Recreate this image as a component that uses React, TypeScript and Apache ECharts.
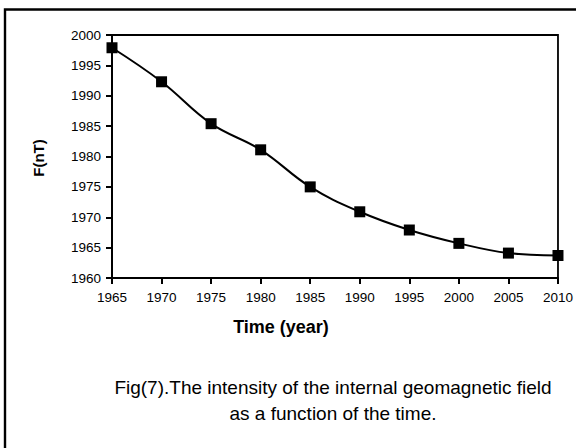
import React, { useEffect, useRef } from "react";
import * as echarts from "echarts";

const years = [1965, 1970, 1975, 1980, 1985, 1990, 1995, 2000, 2005, 2010];
const intensity = [1997.9, 1992.3, 1985.4, 1981.1, 1975.0, 1970.9, 1967.9, 1965.7, 1964.1, 1963.7];
const xAxisTitle = "Time (year)";
const yAxisTitle = "F(nT)";
const captionLine1 = "Fig(7).The intensity of the internal geomagnetic field";
const captionLine2 = "as a function of the time.";

const FONT = "'Liberation Sans', Arial, sans-serif";

export default function App() {
  const ref = useRef<HTMLDivElement>(null);
  useEffect(() => {
    if (!ref.current) return;
    const chart = echarts.init(ref.current, undefined, { renderer: "svg" });
    chart.setOption({
      animation: false,
      backgroundColor: "#ffffff",
      grid: {
        left: 112,
        top: 35,
        right: 14,
        bottom: 170,
        show: true,
        borderColor: "#000",
        borderWidth: 1.8,
        backgroundColor: "transparent",
      },
      xAxis: {
        type: "value",
        min: 1965,
        max: 2010,
        interval: 5,
        axisLine: { show: true, lineStyle: { color: "#000", width: 2 } },
        axisTick: { show: true, inside: false, length: 6, lineStyle: { color: "#000", width: 2 } },
        axisLabel: {
          color: "#000",
          fontSize: 13.5,
          fontFamily: FONT,
          margin: 12,
          formatter: (v: number) => String(v),
        },
        splitLine: { show: false },
      },
      yAxis: {
        type: "value",
        min: 1960,
        max: 2000,
        interval: 5,
        axisLine: { show: true, lineStyle: { color: "#000", width: 2 } },
        axisTick: { show: true, inside: false, length: 6, lineStyle: { color: "#000", width: 2 } },
        axisLabel: {
          color: "#000",
          fontSize: 13.5,
          fontFamily: FONT,
          margin: 11,
          formatter: (v: number) => String(v),
        },
        splitLine: { show: false },
      },
      series: [
        {
          type: "line",
          data: years.map((y, i) => [y, intensity[i]]),
          smooth: 0.4,
          symbol: "rect",
          symbolSize: 11,
          lineStyle: { color: "#000", width: 2 },
          itemStyle: { color: "#000" },
        },
      ],
      graphic: [
        {
          type: "polyline",
          shape: { points: [[5, 448], [5, 9.5], [577, 9.5]] },
          style: { stroke: "#000", lineWidth: 2.4, fill: "none" },
        },
        {
          type: "text",
          x: 281,
          y: 327,
          style: {
            text: xAxisTitle,
            font: `bold 18px ${FONT}`,
            fill: "#000",
            textAlign: "center",
            textVerticalAlign: "middle",
          },
        },
        {
          type: "text",
          x: 38,
          y: 158,
          rotation: Math.PI / 2,
          style: {
            text: yAxisTitle,
            font: `bold 15px ${FONT}`,
            fill: "#000",
            textAlign: "center",
            textVerticalAlign: "middle",
          },
        },
        {
          type: "text",
          x: 333,
          y: 387,
          style: {
            text: captionLine1,
            font: `19px ${FONT}`,
            fill: "#000",
            textAlign: "center",
            textVerticalAlign: "middle",
          },
        },
        {
          type: "text",
          x: 333,
          y: 413,
          style: {
            text: captionLine2,
            font: `19px ${FONT}`,
            fill: "#000",
            textAlign: "center",
            textVerticalAlign: "middle",
          },
        },
      ],
    });
    return () => chart.dispose();
  }, []);
  return (
    <div
      ref={ref}
      style={{ position: "fixed", left: 0, top: 0, width: 576, height: 448, background: "#fff" }}
    />
  );
}
